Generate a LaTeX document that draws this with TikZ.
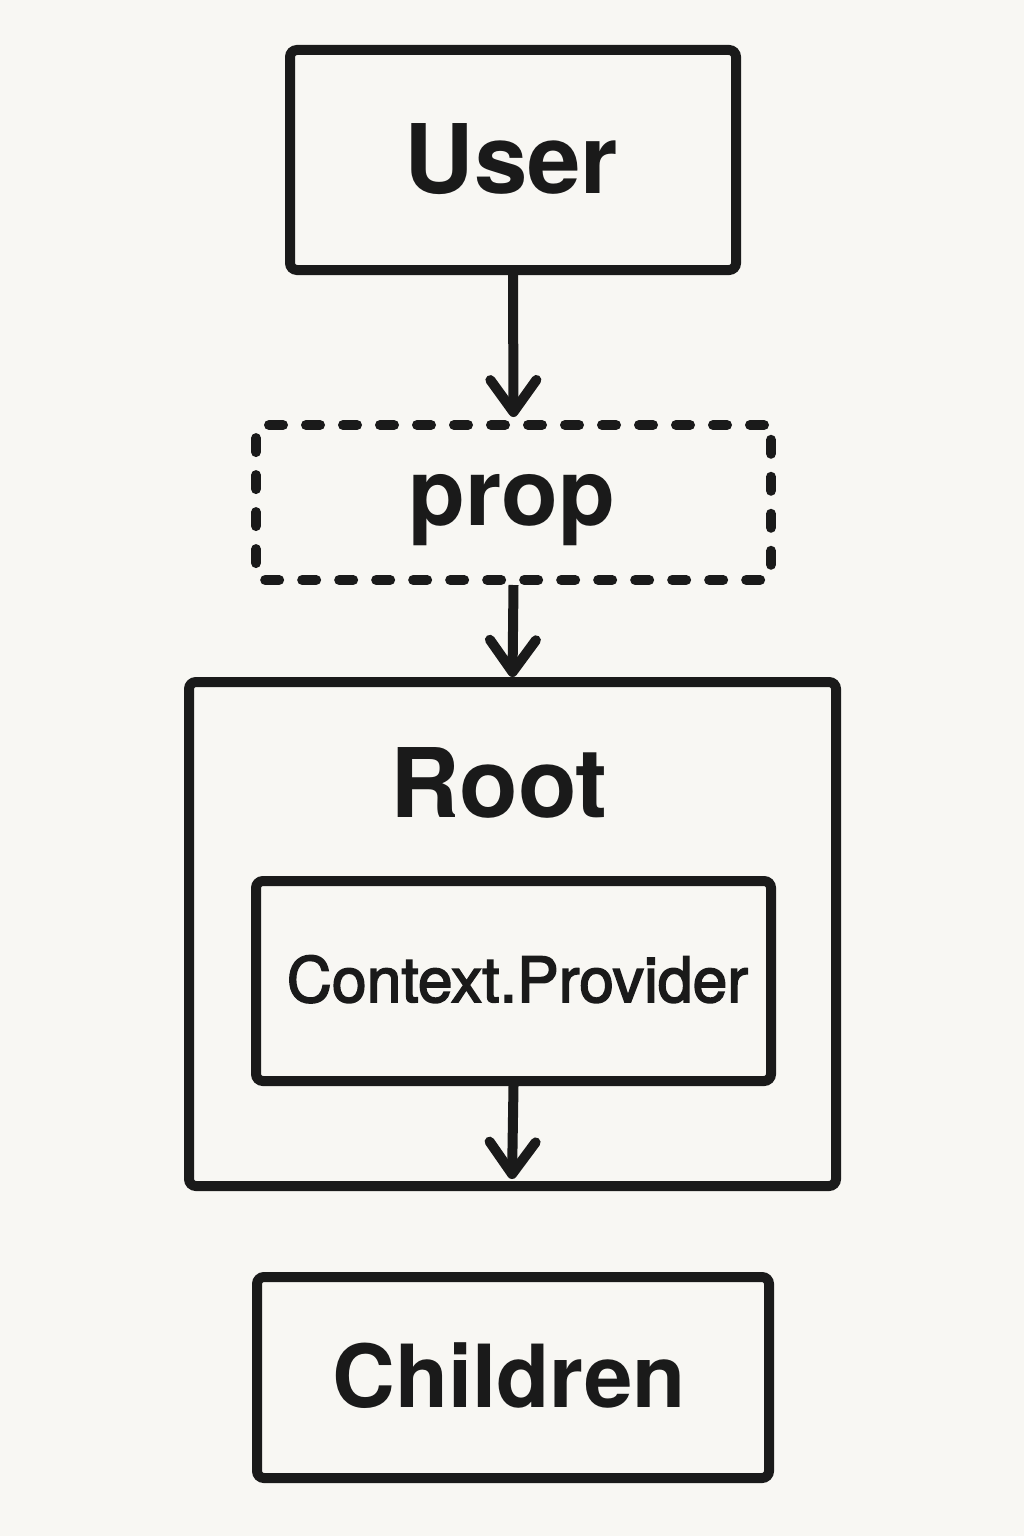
\documentclass[tikz,border=0pt]{standalone}
\usepackage{fontspec}
\setmainfont{TeX Gyre Heros}
\newfontfamily\medfont[FakeBold=2.5]{TeX Gyre Heros}
\usetikzlibrary{arrows.meta}
\definecolor{bg}{HTML}{F8F7F3}
\definecolor{ink}{HTML}{1A1A1A}
\tikzset{
  box/.style={draw=ink, line width=10pt, rounded corners=7pt, inner sep=0pt},
  dashbox/.style={box, line cap=round, dash pattern=on 14pt off 23pt},
  conn/.style={draw=ink, line width=10pt, -{Straight Barb[length=32pt,width=46pt,round]}},
  bigtxt/.style={text=ink, anchor=base, inner sep=0pt, font=\bfseries\fontsize{96}{100}\selectfont},
  midtxt/.style={text=ink, anchor=base, inner sep=0pt, font=\medfont\fontsize{62.5}{66}\selectfont},
}
\begin{document}
\begin{tikzpicture}[x=1pt,y=-1pt]
\path[fill=bg, use as bounding box] (0,0) rectangle (1024,1536);
% boxes
\node[box, minimum width=446pt, minimum height=220pt] (user) at (513,160) {};
\node[dashbox, minimum width=515pt, minimum height=155pt] (prop) at (513.5,502.5) {};
\node[box, minimum width=647pt, minimum height=504pt] (root) at (512.5,934) {};
\node[box, minimum width=515pt, minimum height=200pt] (cp) at (513.5,981) {};
\node[box, minimum width=512pt, minimum height=201pt] (children) at (513,1377.5) {};
% labels
\node[bigtxt] (userlbl) at (511.5,193) {User};
\node[bigtxt, font=\bfseries\fontsize{93}{96}\selectfont] (proplbl) at (511.5,525) {prop};
\node[bigtxt] (rootlbl) at (499,817) {Root};
\node[midtxt] (cplbl) at (517.5,1002) {Context.Provider};
\node[bigtxt, font=\bfseries\fontsize{87}{90}\selectfont] (childlbl) at (509,1407) {Children};
% connectors
\coordinate (rootin) at (512,1179);
\draw[conn] (user.south) -- ([yshift=3pt]prop.north);
\draw[conn] (prop.south) -- ([yshift=0pt]root.north);
\draw[conn] (cp.south) -- (rootin);
\end{tikzpicture}
\end{document}
